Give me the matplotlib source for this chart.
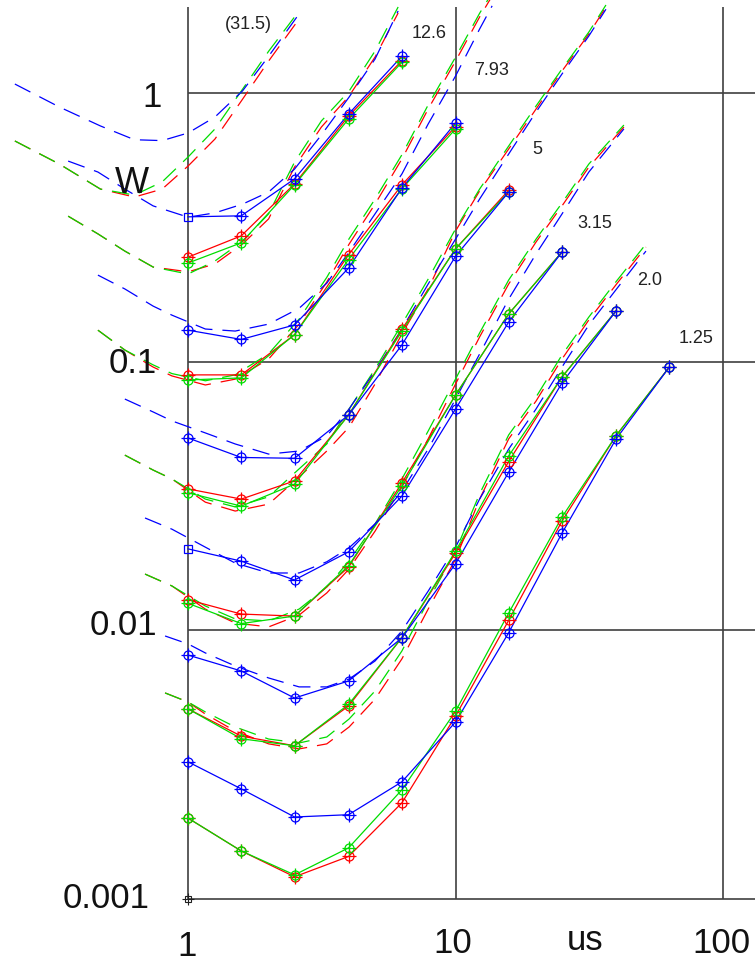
import matplotlib
matplotlib.use("Agg")
import matplotlib.pyplot as plt

plt.rcParams['font.family'] = ['Liberation Sans', 'DejaVu Sans']

# ---------------- data ----------------
x_pts = [1, 1.58, 2.5, 3.98, 6.3, 10, 15.8, 25, 39.8, 63]

# group 1.25
a_blue = [0.00324, 0.00257, 0.00202, 0.00206, 0.00273, 0.00456, 0.0098, 0.0230, 0.0515, 0.0955]
a_red = [0.0020, 0.00151, 0.00121, 0.00144, 0.00228, 0.0048, 0.0109, 0.0255, 0.053, 0.0955]
a_green = [0.0020, 0.00151, 0.00123, 0.00155, 0.00255, 0.0050, 0.0116, 0.0264, 0.053, 0.0955]
# group 2.0
b_blue = [0.00809, 0.00706, 0.00560, 0.00648, 0.00937, 0.0177, 0.0388, 0.0833, 0.1545]
b_red = [0.0051, 0.00404, 0.00372, 0.00523, 0.0094, 0.0194, 0.0425, 0.0877, 0.1545]
b_green = [0.0051, 0.00395, 0.00372, 0.0053, 0.0094, 0.0197, 0.0446, 0.0877, 0.1545]
# group 3.15
c_blue = [0.0201, 0.0181, 0.0154, 0.0196, 0.0316, 0.0667, 0.1405, 0.256]
c_red = [0.0130, 0.0115, 0.0113, 0.0172, 0.0354, 0.0752, 0.1506, 0.256]
c_green = [0.0126, 0.0106, 0.0113, 0.0174, 0.0345, 0.0752, 0.1506, 0.256]
# group 5
d_blue = [0.0520, 0.0440, 0.0437, 0.0633, 0.1154, 0.247, 0.428]
d_red = [0.0336, 0.0308, 0.0360, 0.0633, 0.132, 0.263, 0.435]
d_green = [0.0325, 0.0290, 0.0350, 0.0633, 0.130, 0.263, 0.428]
# group 7.93
e_blue = [0.131, 0.121, 0.137, 0.223, 0.443, 0.773]
e_red = [0.0893, 0.0893, 0.126, 0.250, 0.455, 0.750]
e_green = [0.0855, 0.0870, 0.126, 0.240, 0.440, 0.735]
# group 12.6
f_blue = [0.346, 0.349, 0.479, 0.835, 1.37]
f_red = [0.245, 0.294, 0.459, 0.82, 1.32]
f_green = [0.233, 0.277, 0.455, 0.80, 1.30]

# dashed model curves
g_dx = [0.225, 0.33, 0.47, 0.63, 0.80, 1.0, 1.26, 1.6, 2.0, 2.6]
g_db = [1.08, 0.887, 0.754, 0.67, 0.665, 0.71, 0.814, 1.02, 1.37, 1.97]
g_dr = [0.663, 0.544, 0.439, 0.410, 0.439, 0.535, 0.674, 0.950, 1.315, 1.886]
g_dg = [0.663, 0.544, 0.439, 0.417, 0.467, 0.578, 0.735, 1.035, 1.43, 2.02]

f_dx = [0.356, 0.46, 0.58, 0.74, 1.0, 1.26, 1.6, 2.0, 2.5, 3.15, 4.0, 5.0, 6.1]
f_db = [0.558, 0.508, 0.439, 0.380, 0.345, 0.358, 0.386, 0.428, 0.521, 0.698, 0.966, 1.338, 2.02]
f_dr = [0.348, 0.299, 0.258, 0.225, 0.216, 0.231, 0.2745, 0.340, 0.530, 0.747, 0.975, 1.361, 1.985]
f_dg = [0.348, 0.299, 0.258, 0.225, 0.212, 0.237, 0.281, 0.355, 0.553, 0.787, 1.017, 1.433, 2.09]

e_dx = [0.46, 0.58, 0.74, 0.87, 1.16, 1.5, 2.0, 2.6, 3.3, 4.0, 5.0, 6.3, 7.9, 10, 12.3, 13.7]
e_db = [0.210, 0.1865, 0.161, 0.149, 0.1323, 0.130, 0.138, 0.158, 0.196, 0.256, 0.355, 0.4996, 0.767, 1.157, 1.73, 2.11]
e_dr = [0.131, 0.1105, 0.0955, 0.0885, 0.0819, 0.0861, 0.1023, 0.138, 0.198, 0.274, 0.386, 0.568, 0.872, 1.315, 1.918, 2.296]
e_dg = [0.131, 0.1105, 0.0973, 0.0903, 0.0849, 0.0893, 0.107, 0.144, 0.206, 0.287, 0.403, 0.589, 0.903, 1.36, 1.98, 2.36]

d_dx = [0.58, 0.74, 0.87, 1.16, 1.5, 2.0, 2.6, 3.3, 4.0, 5.0, 6.3, 7.9, 10, 12.3, 15.8, 20, 25, 31.5, 36.5]
d_db = [0.0726, 0.065, 0.0602, 0.0543, 0.0494, 0.0453, 0.0465, 0.0529, 0.0667, 0.0923, 0.1323, 0.1946, 0.286, 0.403, 0.593, 0.850, 1.177, 1.63, 2.05]
d_dr = [0.0449, 0.0395, 0.0366, 0.0300, 0.0278, 0.0295, 0.0372, 0.0465, 0.0571, 0.0826, 0.1268, 0.1865, 0.3065, 0.432, 0.619, 0.872, 1.207, 1.658, 2.09]
d_dg = [0.0449, 0.0395, 0.0366, 0.0308, 0.0288, 0.0314, 0.0399, 0.0494, 0.0667, 0.0939, 0.138, 0.203, 0.312, 0.439, 0.635, 0.895, 1.228, 1.686, 2.126]

c_dx = [0.69, 0.87, 1.16, 1.5, 2.0, 2.6, 3.3, 4.0, 5.0, 6.3, 7.9, 10, 12.3, 15.8, 20, 25, 31.5, 42.6]
c_db = [0.0262, 0.0238, 0.0204, 0.0178, 0.01635, 0.01635, 0.0180, 0.0203, 0.0249, 0.0330, 0.0473, 0.0726, 0.1068, 0.171, 0.252, 0.3546, 0.508, 0.735]
c_dr = [0.0162, 0.01463, 0.0120, 0.01065, 0.0103, 0.0114, 0.01378, 0.01693, 0.0234, 0.0342, 0.0516, 0.0826, 0.1236, 0.1946, 0.279, 0.380, 0.530, 0.747]
c_dg = [0.0162, 0.01463, 0.01232, 0.01103, 0.01084, 0.0120, 0.0145, 0.01813, 0.0249, 0.0366, 0.0552, 0.0862, 0.1279, 0.2014, 0.286, 0.3896, 0.544, 0.760]

b_dx = [0.82, 1.0, 1.16, 1.5, 2.0, 2.6, 3.3, 4.0, 5.0, 6.3, 7.9, 10, 12.3, 15.8, 20, 25, 31.5, 40, 51.5]
b_db = [0.00953, 0.0089, 0.00824, 0.00737, 0.00665, 0.00616, 0.00616, 0.00659, 0.00769, 0.00995, 0.0140, 0.0204, 0.0308, 0.0473, 0.0667, 0.0955, 0.137, 0.1865, 0.258]
b_dr = [0.00585, 0.00541, 0.00488, 0.00422, 0.00378, 0.00362, 0.00378, 0.00437, 0.00555, 0.00783, 0.0120, 0.0184, 0.0308, 0.0516, 0.0714, 0.1023, 0.143, 0.1946, 0.267]
b_dg = [0.00585, 0.00541, 0.00497, 0.00437, 0.00394, 0.00381, 0.00401, 0.00468, 0.00595, 0.00838, 0.01287, 0.01974, 0.0322, 0.0534, 0.0739, 0.1059, 0.1466, 0.1997, 0.274]

group_labels = ["1.25", "2.0", "3.15", "5", "7.93", "12.6", "(31.5)"]
y_ticks = [1, 0.1, 0.01, 0.001]
y_tick_labels = ["1", "0.1", "0.01", "0.001"]
x_ticks = [1, 10, 100]
x_tick_labels = ["1", "10", "100"]
x_unit = "us"
y_unit = "W"

# ---------------- drawing ----------------
W, H = 755, 962
fig = plt.figure(figsize=(W / 100, H / 100), dpi=100)
ax = fig.add_axes([0, 0, 1, 1])
ax.set_xscale('log')
ax.set_yscale('log')
ax.set_xlim(0.198, 131.7)
ax.set_ylim(0.000588, 2.238)
ax.axis('off')

BLUE, RED, GREEN = '#0000ff', '#ff0000', '#00dd00'
GRID = '#404040'

# grid frame
for yv in y_ticks:
    ax.plot([1, 131.7], [yv, yv], color=GRID, lw=1.2, zorder=1, solid_capstyle='butt')
for xv in x_ticks:
    ax.plot([xv, xv], [0.001, 2.09], color=GRID, lw=1.2, zorder=1, solid_capstyle='butt')
ax.plot([1], [0.001], ls='none', marker='s', ms=5, mfc='none', mec='#202020', mew=0.8, zorder=2)
ax.plot([1], [0.001], ls='none', marker='+', ms=8, mec='#202020', mew=0.8, zorder=2)

dashed = [
    (g_dx, g_db, g_dr, g_dg),
    (f_dx, f_db, f_dr, f_dg),
    (e_dx, e_db, e_dr, e_dg),
    (d_dx, d_db, d_dr, d_dg),
    (c_dx, c_db, c_dr, c_dg),
    (b_dx, b_db, b_dr, b_dg),
]
for dx, db, dr, dg in dashed:
    for dy, col in ((dr, RED), (dg, GREEN), (db, BLUE)):
        ax.plot(dx, dy, color=col, lw=0.9, dashes=(14, 8), zorder=3)

solid = [
    (a_blue, a_red, a_green, False),
    (b_blue, b_red, b_green, False),
    (c_blue, c_red, c_green, True),
    (d_blue, d_red, d_green, False),
    (e_blue, e_red, e_green, False),
    (f_blue, f_red, f_green, True),
]


def draw_series(ys, col, square_first=False):
    xs = x_pts[:len(ys)]
    ax.plot(xs, ys, color=col, lw=0.9, zorder=4)
    if square_first:
        ax.plot(xs[:1], ys[:1], ls='none', marker='s', ms=6, mfc='none', mec=col, mew=0.9, zorder=5)
        ax.plot(xs[1:], ys[1:], ls='none', marker='o', ms=6.5, mfc='none', mec=col, mew=0.9, zorder=5)
    else:
        ax.plot(xs, ys, ls='none', marker='o', ms=6.5, mfc='none', mec=col, mew=0.9, zorder=5)
    ax.plot(xs[1:] if square_first else xs, ys[1:] if square_first else ys,
            ls='none', marker='+', ms=10, mec=col, mew=0.9, zorder=5)


for yb, yr, yg, sq in solid:
    draw_series(yr, RED)
    draw_series(yg, GREEN)
    draw_series(yb, BLUE, square_first=sq)


def fx(px):
    return px / W


def fy(py):
    return 1 - py / H


TXT = '#111111'
# y tick labels (right edge, baseline in pixels)
for lab, rx, by in zip(y_tick_labels, [162, 157, 157, 150], [107, 373, 635, 908]):
    fig.text(fx(rx), fy(by), lab, ha='right', va='baseline', fontsize=25, color=TXT)
# x tick labels
for lab, cx, by in zip(x_tick_labels, [187, 453, 721], [956, 953, 953]):
    fig.text(fx(cx), fy(by), lab, ha='center', va='baseline', fontsize=25, color=TXT)
fig.text(fx(585), fy(950), x_unit, ha='center', va='baseline', fontsize=25, color=TXT)
fig.text(fx(115), fy(193), y_unit, ha='left', va='baseline', fontsize=26, color=TXT)

# group labels
for lab, lx, by in zip(group_labels,
                       [679, 637, 577, 532, 474, 412, 225],
                       [343, 285, 228, 154, 75, 38, 29]):
    fig.text(fx(lx), fy(by), lab, ha='left', va='baseline', fontsize=13, color='#222222')

fig.savefig('out.png', dpi=100)
